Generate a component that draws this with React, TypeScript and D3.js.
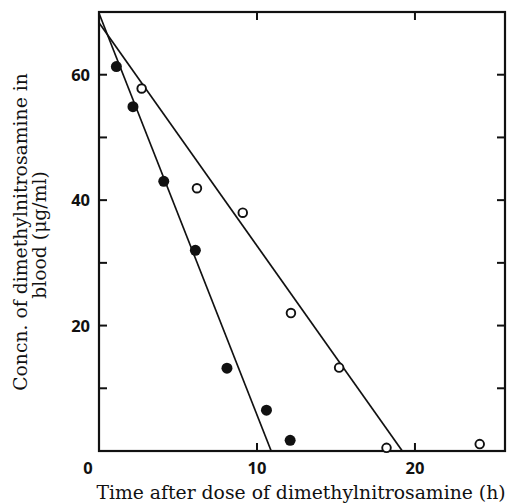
import * as d3 from "d3";
import { useEffect, useRef } from "react";

// filled circles
const filledTime = [1.1, 2.15, 4.1, 6.1, 8.1, 10.6, 12.1];
const filledConc = [61.3, 54.9, 43, 32, 13.2, 6.5, 1.7];
// open circles
const openTime = [2.7, 6.2, 9.1, 12.15, 15.2, 18.2, 24.1];
const openConc = [57.8, 41.9, 38, 22, 13.3, 0.5, 1.1];
// fitted lines (start conc at t=0, time where conc reaches 0)
const filledFit = [[0, 69.8], [10.9, 0]];
const openFit = [[0, 68.3], [19.2, 0]];

const xTicks = [0, 10, 20];
const yTickLabels = [20, 40, 60];
const yTicksAll = [10, 20, 30, 40, 50, 60];

const W = 507;
const H = 503;

const App = () => {
  const ref = useRef<SVGSVGElement>(null);

  useEffect(() => {
    const svg = d3.select(ref.current);
    svg.selectAll("*").remove();

    const left = 99, right = 505, top = 12, bottom = 451;
    const x = d3.scaleLinear().domain([0, 25.7]).range([left, right]);
    const y = d3.scaleLinear().domain([0, 70]).range([bottom, top]);

    // frame
    svg.append("rect")
      .attr("x", left).attr("y", top)
      .attr("width", right - left).attr("height", bottom - top)
      .attr("fill", "none").attr("stroke", "#111").attr("stroke-width", 2.2);

    const tickLen = 8;
    const g = svg.append("g").attr("stroke", "#111").attr("stroke-width", 2);
    yTicksAll.forEach((v) => {
      g.append("line").attr("x1", left).attr("x2", left + tickLen).attr("y1", y(v)).attr("y2", y(v));
      g.append("line").attr("x1", right - tickLen).attr("x2", right).attr("y1", y(v)).attr("y2", y(v));
    });
    xTicks.filter((v) => v > 0).forEach((v) => {
      g.append("line").attr("x1", x(v)).attr("x2", x(v)).attr("y1", bottom).attr("y2", bottom - tickLen);
      g.append("line").attr("x1", x(v)).attr("x2", x(v)).attr("y1", top).attr("y2", top + tickLen);
    });

    // tick labels
    const tickFont = "'Open Sans', sans-serif";
    xTicks.forEach((v) => {
      svg.append("text")
        .attr("x", v === 0 ? x(v) - 11 : x(v))
        .attr("y", bottom + 23)
        .attr("text-anchor", "middle")
        .attr("font-family", tickFont).attr("font-weight", 700).attr("font-size", 16.5)
        .attr("fill", "#111")
        .text(v);
    });
    yTickLabels.forEach((v) => {
      svg.append("text")
        .attr("x", left - 9)
        .attr("y", y(v) + 6)
        .attr("text-anchor", "end")
        .attr("font-family", tickFont).attr("font-weight", 700).attr("font-size", 16.5)
        .attr("fill", "#111")
        .text(v);
    });

    // axis titles
    svg.append("text")
      .attr("x", 301).attr("y", 499)
      .attr("text-anchor", "middle")
      .attr("font-family", "'DejaVu Serif', serif").attr("font-size", 18.8)
      .attr("fill", "#111")
      .text("Time after dose of dimethylnitrosamine (h)");

    const yl = svg.append("text")
      .attr("transform", "translate(27,232)rotate(-90)")
      .attr("text-anchor", "middle")
      .attr("font-family", "'DejaVu Serif', serif").attr("font-size", 18.8)
      .attr("fill", "#111");
    yl.append("tspan").attr("x", 0).attr("y", 0).text("Concn. of dimethylnitrosamine in");
    yl.append("tspan").attr("x", -3).attr("y", 19).text("blood (\u03BCg/ml)");

    // fitted lines
    const line = d3.line<number[]>().x((d) => x(d[0])).y((d) => y(d[1]));
    [filledFit, openFit].forEach((fit) => {
      svg.append("path")
        .attr("d", line(fit))
        .attr("fill", "none").attr("stroke", "#111").attr("stroke-width", 1.7);
    });

    // points
    filledTime.forEach((t, i) => {
      svg.append("circle")
        .attr("cx", x(t)).attr("cy", y(filledConc[i])).attr("r", 5.5)
        .attr("fill", "#111");
    });
    openTime.forEach((t, i) => {
      svg.append("circle")
        .attr("cx", x(t)).attr("cy", y(openConc[i])).attr("r", 4.3)
        .attr("fill", "#fff").attr("stroke", "#111").attr("stroke-width", 1.9);
    });
  }, []);

  return (
    <svg
      ref={ref}
      width={W}
      height={H}
      style={{ position: "absolute", left: 0, top: 0, background: "#fff" }}
    />
  );
};

export default App;
